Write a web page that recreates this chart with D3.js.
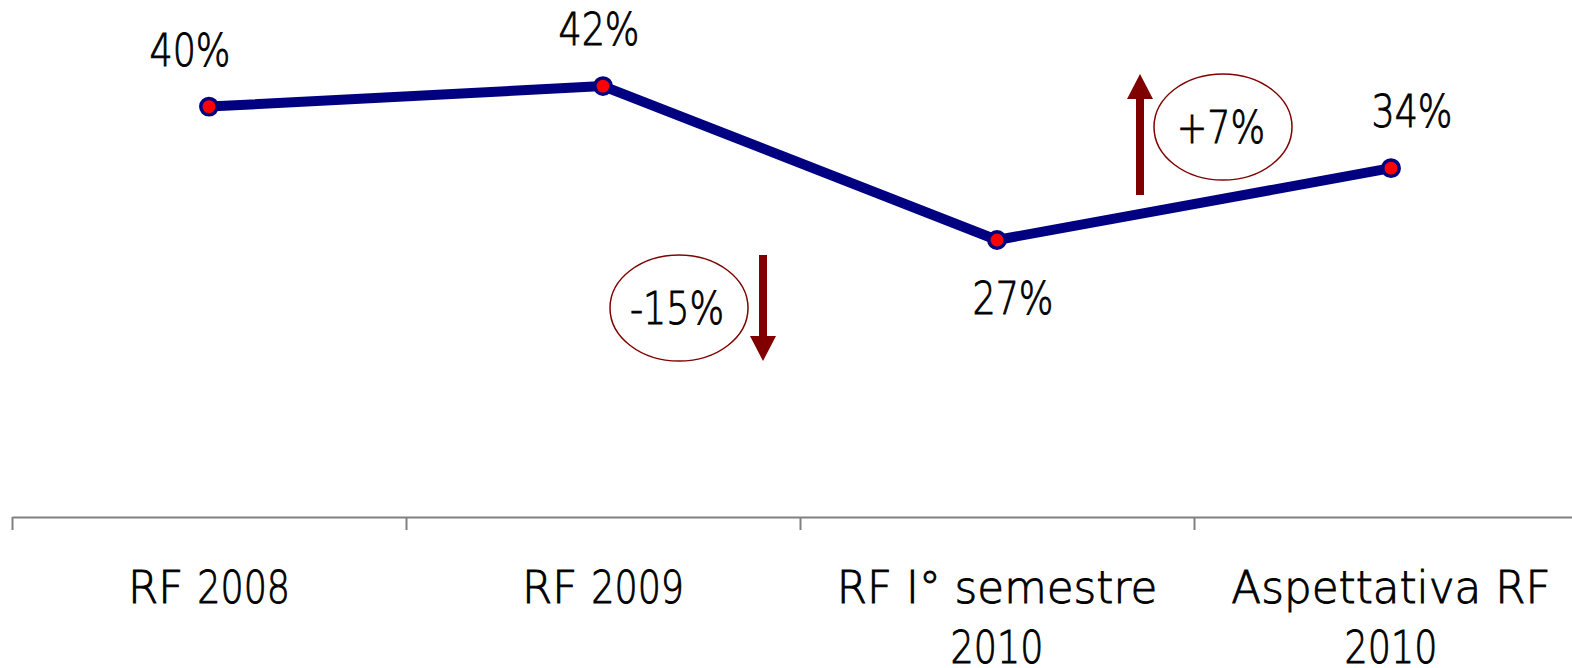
<!DOCTYPE html>
<html>
<head>
<meta charset="utf-8">
<script src="https://cdn.jsdelivr.net/npm/d3@7"></script>
<style>
  html, body { margin: 0; padding: 0; background: #fff; }
  svg { display: block; font-family: "DejaVu Sans", sans-serif; }
</style>
</head>
<body>
<div id="chart"></div>
<script>
const categories = ["RF 2008", "RF 2009", "RF I° semestre\n2010", "Aspettativa RF\n2010"];
const values = [0.40, 0.42, 0.27, 0.34];
const labelSide = ["above", "above", "below", "above"];
const labelNudge = [-19, -4, 16, 21];
const changeLabels = ["-15%", "+7%"];
const changeDirections = ["down", "up"];

const width = 1572;
const height = 668;
const fontSize = 45;
const lineColor = "#000080";
const dark = "#800000";

const svg = d3
  .select("#chart")
  .append("svg")
  .attr("width", width)
  .attr("height", height);

const xBand = d3.scaleBand().domain(d3.range(categories.length)).range([12, 1588]);
const xEdge = d3.scaleLinear().domain([0, categories.length]).range([12, 1588]);
const y = d3.scaleLinear().domain([0, 0.5]).range([517, 4]);
const cx = (i) => xBand(i) + xBand.bandwidth() / 2;
const pct = d3.format(".0%");

// the original face has narrow digits and wide letters, so squeeze runs separately
const addText = (g, x, yy, str) => {
  const runs = str.match(/[0-9%+\-]+|[^0-9%+\-]+/g);
  const grp = g.append("g");
  let pos = 0;
  runs.forEach((r) => {
    const sx = /[0-9%+\-]/.test(r[0]) ? 0.81 : 0.97;
    const t = grp
      .append("text")
      .attr("font-size", fontSize)
      .attr("font-weight", 300)
      .attr("fill", "#000")
      .attr("stroke", "#000")
      .attr("stroke-width", 0.9)
      .attr("xml:space", "preserve")
      .style("white-space", "pre")
      .text(r);
    const w = t.node().getComputedTextLength() * sx;
    t.attr("transform", `translate(${pos},0) scale(${sx},1)`);
    pos += w;
  });
  grp.attr("transform", `translate(${x - pos / 2},${yy})`);
};

// x axis, ticks between categories
const axis = svg
  .append("g")
  .attr("transform", `translate(0,${y(0)})`)
  .call(
    d3
      .axisBottom(xEdge)
      .tickValues(d3.range(categories.length + 1))
      .tickFormat("")
      .tickSizeInner(13)
      .tickSizeOuter(0),
  );
axis.selectAll("path, line").attr("stroke", "#808080").attr("stroke-width", 2);

const catG = svg.append("g");
categories.forEach((c, i) => {
  c.split("\n").forEach((ln, j) => {
    addText(catG, cx(i), 603 + j * 60, ln);
  });
});

// line + markers
const line = d3
  .line()
  .x((d, i) => cx(i))
  .y((d) => y(d));
svg
  .append("path")
  .datum(values)
  .attr("d", line)
  .attr("fill", "none")
  .attr("stroke", lineColor)
  .attr("stroke-width", 10)
  .attr("stroke-linejoin", "round");

svg
  .append("g")
  .selectAll("circle")
  .data(values)
  .enter()
  .append("circle")
  .attr("cx", (d, i) => cx(i))
  .attr("cy", (d) => y(d))
  .attr("r", 8.2)
  .attr("fill", "#ff0000")
  .attr("stroke", lineColor)
  .attr("stroke-width", 3.5);

// data labels
const labG = svg.append("g");
values.forEach((v, i) => {
  const ly = labelSide[i] === "above" ? y(v) - 41 : y(v) + 74;
  addText(labG, cx(i) + labelNudge[i], ly, pct(v));
});

// change annotations: ellipse with text, and arrow
const notes = [
  { ex: 679, ey: 308, ax: 763, top: 255, bottom: 361 },
  { ex: 1223, ey: 127, ax: 1140, top: 74, bottom: 195 },
];
const noteG = svg.append("g");
notes.forEach((n, i) => {
  noteG
    .append("ellipse")
    .attr("cx", n.ex)
    .attr("cy", n.ey)
    .attr("rx", 69)
    .attr("ry", 53)
    .attr("fill", "none")
    .attr("stroke", dark)
    .attr("stroke-width", 1.5);
  addText(noteG, n.ex - 2, n.ey + 16, changeLabels[i]);

  const head = 25;
  const hw = 13;
  const sw = 4;
  let pts;
  if (changeDirections[i] === "down") {
    const hb = n.bottom - head;
    pts = [
      [n.ax - sw, n.top], [n.ax + sw, n.top], [n.ax + sw, hb], [n.ax + hw, hb],
      [n.ax, n.bottom], [n.ax - hw, hb], [n.ax - sw, hb],
    ];
  } else {
    const hb = n.top + head;
    pts = [
      [n.ax - sw, n.bottom], [n.ax + sw, n.bottom], [n.ax + sw, hb], [n.ax + hw, hb],
      [n.ax, n.top], [n.ax - hw, hb], [n.ax - sw, hb],
    ];
  }
  noteG.append("polygon").attr("points", pts.map((p) => p.join(",")).join(" ")).attr("fill", dark);
});
</script>
</body>
</html>
